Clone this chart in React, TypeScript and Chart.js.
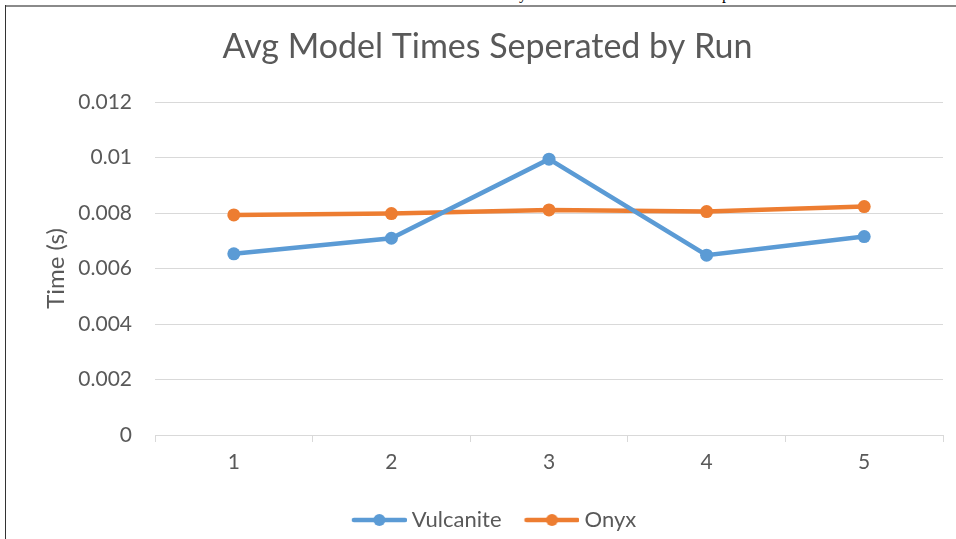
import React, { useEffect, useRef } from "react";
import { Chart, registerables } from "chart.js";
Chart.register(...registerables);

const runs = ["1", "2", "3", "4", "5"];
const vulcanite = [0.00653, 0.00709, 0.00994, 0.00648, 0.00715];
const onyx = [0.00793, 0.00798, 0.00811, 0.00805, 0.00823];
const yMin = 0;
const yMax = 0.012;
const yStep = 0.002;

const BLUE = "#5B9BD5";
const ORANGE = "#ED7D31";
const TEXT = "#595959";
const GRID = "#D9D9D9";

function legendIcon(color: string) {
  const c = document.createElement("canvas");
  c.width = 74;
  c.height = 14;
  const g = c.getContext("2d")!;
  g.strokeStyle = color;
  g.lineWidth = 4.5;
  g.lineCap = "round";
  g.beginPath();
  g.moveTo(21, 7);
  g.lineTo(72, 7);
  g.stroke();
  g.fillStyle = color;
  g.beginPath();
  g.arc(46.5, 7, 6, 0, Math.PI * 2);
  g.fill();
  return c;
}

export default function App() {
  const ref = useRef<HTMLCanvasElement>(null);
  useEffect(() => {
    const icons = [legendIcon(BLUE), legendIcon(ORANGE)];
    const chart = new Chart(ref.current!, {
      type: "line",
      data: {
        labels: runs,
        datasets: [
          {
            label: "Vulcanite",
            data: vulcanite,
            borderColor: BLUE,
            backgroundColor: BLUE,
            borderWidth: 4.5,
            pointRadius: 6.5,
            pointBorderWidth: 0,
            tension: 0,
          },
          {
            label: "Onyx",
            data: onyx,
            borderColor: ORANGE,
            backgroundColor: ORANGE,
            borderWidth: 4.5,
            pointRadius: 6.5,
            pointBorderWidth: 0,
            tension: 0,
          },
        ],
      },
      options: {
        animation: false,
        responsive: false,
        maintainAspectRatio: false,
        layout: { padding: { left: 32, right: 13, top: 0, bottom: -2 } },
        plugins: {
          title: {
            display: true,
            text: "Avg Model Times Seperated by Run",
            color: TEXT,
            font: { family: "Lato", size: 34, weight: "normal" },
            padding: { top: 26.6, bottom: 34.6 },
          },
          legend: {
            position: "bottom",
            labels: {
              color: TEXT,
              font: { family: "Lato", size: 22 },
              usePointStyle: true,
              pointStyleWidth: 62,
              padding: 10,
              generateLabels: (c: any) =>
                (Chart.defaults.plugins.legend.labels.generateLabels as any)(c).map((l: any, i: number) => ({
                  ...l,
                  pointStyle: icons[i],
                })),
            },
          },
          tooltip: { enabled: false },
        },
        scales: {
          x: {
            offset: true,
            afterFit: (s: any) => {
              s.height = 64;
            },
            grid: {
              offset: true,
              drawOnChartArea: false,
              drawTicks: true,
              tickLength: 7,
              color: GRID,
            },
            border: { display: true, color: GRID, width: 1 },
            ticks: {
              color: TEXT,
              font: { family: "Lato", size: 21 },
              padding: 8,
            },
          },
          y: {
            min: yMin,
            max: yMax,
            afterFit: (s: any) => {
              s.width = 123;
            },
            grid: { color: GRID, drawTicks: false },
            border: { display: false },
            ticks: {
              stepSize: yStep,
              color: TEXT,
              font: { family: "Lato", size: 21 },
              padding: 23,
              callback: (v: any) => String(+Number(v).toFixed(3)),
            },
            title: {
              display: true,
              text: "Time (s)",
              color: TEXT,
              font: { family: "Lato", size: 24 },
              padding: { top: 9.6, bottom: 0 },
            },
          },
        },
      },
    } as any);
    return () => chart.destroy();
  }, []);

  return (
    <div style={{ position: "fixed", left: 0, top: 0, width: 956, height: 539, background: "#fff", overflow: "hidden" }}>
      <span style={{ position: "absolute", left: 519, top: -15, fontFamily: "Liberation Serif", fontSize: 16, lineHeight: "18px", color: "#000" }}>y</span>
      <span style={{ position: "absolute", left: 722, top: -15, fontFamily: "Liberation Serif", fontSize: 16, lineHeight: "18px", color: "#000" }}>p</span>
      <div style={{ position: "absolute", left: 5, top: 5, width: 951, height: 2, background: "#8a8a8a" }} />
      <div style={{ position: "absolute", left: 5, top: 5, width: 1, height: 534, background: "#333" }} />
      <canvas ref={ref} width={956} height={539} style={{ position: "absolute", left: 0, top: 0, width: 956, height: 539 }} />
    </div>
  );
}
